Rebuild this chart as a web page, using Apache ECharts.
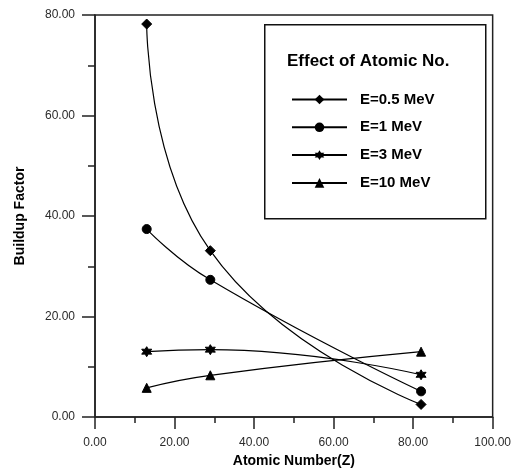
<!DOCTYPE html>
<html>
<head>
<meta charset="utf-8">
<script src="https://cdn.jsdelivr.net/npm/echarts@6/dist/echarts.min.js"></script>
<style>html,body{margin:0;padding:0;background:#fff}#c{width:514px;height:473px}</style>
</head>
<body>
<div id="c"></div>
<script>
const atomicNumbers = [13, 29, 82];
const seriesNames = ['E=0.5 MeV', 'E=1 MeV', 'E=3 MeV', 'E=10 MeV'];
const e05 = [78.2, 33.1, 2.5];
const e1 = [37.4, 27.3, 5.1];
const e3 = [13.0, 13.4, 8.4];
const e10 = [5.8, 8.3, 13.0];
const xTicks = [0, 20, 40, 60, 80, 100];
const yTicks = [0, 20, 40, 60, 80];
const legendTitle = 'Effect of Atomic No.';
const xName = 'Atomic Number(Z)';
const yName = 'Buildup Factor';

const starPath = 'path://M10 0 L12.75 5.24 L18.66 5 L15.5 10 L18.66 15 L12.75 14.76 L10 20 L7.25 14.76 L1.34 15 L4.5 10 L1.34 5 L7.25 5.24 Z';
const symbols = ['diamond', 'circle', starPath, 'triangle'];
const sizes = [10, 9, 10, 9];
const values = [e05, e1, e3, e10];

const axisColor = '#222';
const font = 'Liberation Sans, Arial, sans-serif';

const chart = echarts.init(document.getElementById('c'), null, {renderer: 'canvas'});
chart.setOption({
  animation: false,
  backgroundColor: '#fff',
  grid: {left: 95, right: 18, top: 15, bottom: 53, show: true, borderColor: axisColor, borderWidth: 1.5, containLabel: false},
  xAxis: {
    type: 'value', min: xTicks[0], max: xTicks[xTicks.length - 1], interval: 20,
    name: xName, nameLocation: 'middle', nameGap: 37,
    nameTextStyle: {fontFamily: font, fontWeight: 'bold', fontSize: 14, color: '#000'},
    axisLine: {lineStyle: {color: axisColor, width: 1.5}},
    axisTick: {show: true, length: 12, lineStyle: {color: axisColor, width: 1.5}},
    minorTick: {show: true, splitNumber: 2, length: 6, lineStyle: {color: axisColor, width: 1.5}},
    splitLine: {show: false},
    axisLabel: {margin: 20, fontFamily: font, fontSize: 12, color: '#2a2a2a', formatter: v => v.toFixed(2)}
  },
  yAxis: {
    type: 'value', min: yTicks[0], max: yTicks[yTicks.length - 1], interval: 20,
    name: yName, nameLocation: 'middle', nameGap: 68, nameRotate: 90,
    nameTextStyle: {fontFamily: font, fontWeight: 'bold', fontSize: 14, color: '#000'},
    axisLine: {lineStyle: {color: axisColor, width: 1.5}},
    axisTick: {show: true, length: 13, lineStyle: {color: axisColor, width: 1.5}},
    minorTick: {show: true, splitNumber: 2, length: 7, lineStyle: {color: axisColor, width: 1.5}},
    splitLine: {show: false},
    axisLabel: {margin: 20, fontFamily: font, fontSize: 12, color: '#2a2a2a', formatter: v => v.toFixed(2)}
  },
  graphic: [
    {type: 'rect', left: 264, top: 24, shape: {width: 221, height: 194}, style: {fill: '#fff', stroke: '#111', lineWidth: 1.5}, z: 50},
    {type: 'text', left: 287, top: 53, style: {text: legendTitle, font: 'bold 17px Liberation Sans, Arial, sans-serif', fill: '#000'}, z: 51}
  ],
  legend: {
    orient: 'vertical', left: 286, top: 87, itemWidth: 55, itemHeight: 12, itemGap: 12.8,
    z: 60,
    data: seriesNames,
    textStyle: {fontFamily: font, fontWeight: 'bold', fontSize: 15, color: '#000', padding: [0, 0, 0, 8], lineHeight: 14.5}
  },
  series: seriesNames.map((n, i) => ({
    name: n, type: 'line', smooth: 0.5,
    data: atomicNumbers.map((x, j) => [x, values[i][j]]),
    symbol: symbols[i], symbolSize: sizes[i],
    lineStyle: {color: '#000', width: 1.2},
    itemStyle: {color: '#000', borderColor: '#000'},
    z: 10
  }))
});
</script>
</body>
</html>
